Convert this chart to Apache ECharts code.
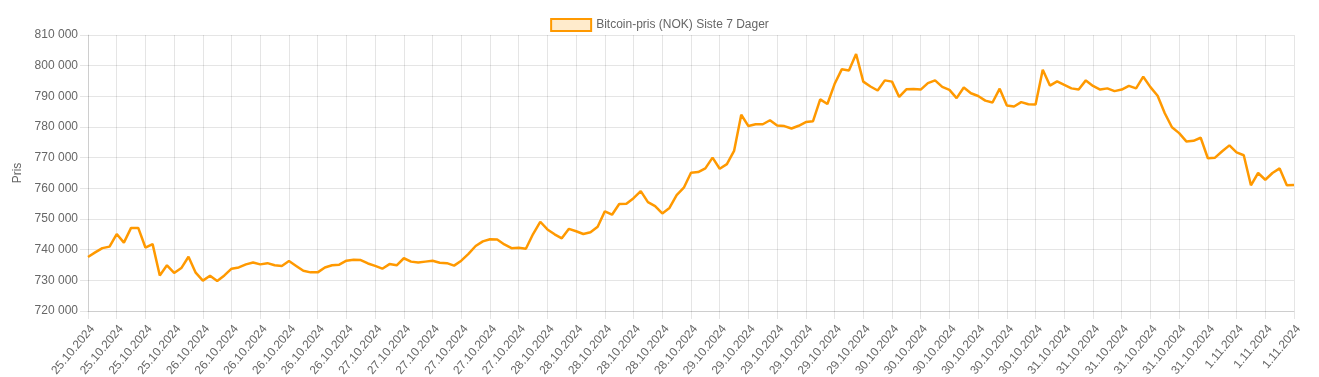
<!DOCTYPE html>
<html>
<head>
<meta charset="utf-8">
<script src="https://cdn.jsdelivr.net/npm/echarts@6/dist/echarts.min.js"></script>
<style>
  html, body { margin: 0; padding: 0; background: #fff; }
  #chartBtc { width: 1319px; height: 377px; }
</style>
</head>
<body>
<div id="chartBtc"></div>
<script>
// dager og antall timepunkter per dag (første punkt 25.10 kl 08)
const dayLabels = ['25.10.2024', '26.10.2024', '27.10.2024', '28.10.2024', '29.10.2024', '30.10.2024', '31.10.2024', '1.11.2024'];
const hoursPerDay = [16, 24, 24, 24, 24, 24, 24, 9];

// pris i NOK, en verdi per time
const prices = [
  737600, 739100, 740500, 741000, 745100, 742300, 747100, 747100, 740700, 741800,
  731600, 734900, 732400, 734000, 737700, 732500, 729900, 731500, 729800, 731600,
  733800, 734200, 735200, 735800, 735200, 735600, 734900, 734700, 736300, 734700,
  733100, 732600, 732600, 734200, 734900, 735100, 736400, 736700, 736600, 735500,
  734700, 733800, 735300, 734900, 737200, 736100, 735800, 736100, 736400, 735750,
  735600, 734800, 736400, 738600, 741200, 742700, 743400, 743300, 741700, 740500,
  740600, 740300, 745100, 749100, 746600, 745000, 743700, 746800, 746000, 745100,
  745700, 747500, 752500, 751400, 754900, 755000, 756800, 759100, 755500, 754200,
  751800, 753600, 757800, 760200, 765100, 765300, 766500, 770000, 766400, 767900,
  772200, 784000, 780300, 780900, 780900, 782200, 780500, 780300, 779500, 780400,
  781600, 781900, 789000, 787500, 794000, 798800, 798400, 803800, 794800, 793200,
  791900, 795200, 794800, 789800, 792300, 792400, 792200, 794300, 795200, 793100,
  792100, 789400, 792900, 791000, 790100, 788600, 788000, 792500, 787000, 786700,
  788100, 787400, 787300, 798700, 793500, 794900, 793700, 792600, 792200, 795200,
  793400, 792200, 792600, 791700, 792200, 793400, 792600, 796400, 793000, 790200,
  784500, 779900, 778000, 775300, 775500, 776500, 769800, 770000, 772100, 774000,
  771700, 770800, 761000, 765000, 762800, 765000, 766500, 761000, 761100
];

const yMin = 720000;
const yMax = 810000;
const yStep = 10000;
const labelEvery = 4;

// unike kategorinøkler "dato|indeks", bare datoen vises
const categories = [];
dayLabels.forEach(function (day, d) {
  for (let h = 0; h < hoursPerDay[d]; h++) {
    categories.push(day + '|' + categories.length);
  }
});

const gridColor = 'rgba(0,0,0,0.1)';
const textColor = '#666';
const font = 'Liberation Sans, Arial, Helvetica, sans-serif';
const seriesName = 'Bitcoin-pris (NOK) Siste 7 Dager';

const myChart = echarts.init(document.getElementById('chartBtc'));
const option = {
  animation: false,
  textStyle: { fontFamily: font },
  legend: {
    top: 13,
    left: 'center',
    icon: 'rect',
    itemWidth: 40,
    itemHeight: 12,
    itemGap: 10,
    textStyle: { color: textColor, fontSize: 12, fontFamily: font },
    data: [{
      name: seriesName,
      itemStyle: { color: 'rgba(255,153,0,0.2)', borderColor: '#ff9900', borderWidth: 2 }
    }]
  },
  grid: {
    left: 88,
    right: 25,
    top: 35,
    bottom: 66,
    containLabel: false,
    outerBoundsMode: 'none'
  },
  xAxis: {
    type: 'category',
    data: categories,
    boundaryGap: false,
    axisLine: { lineStyle: { color: gridColor } },
    axisTick: { interval: labelEvery - 1, length: 8, lineStyle: { color: gridColor } },
    splitLine: { show: true, interval: labelEvery - 1, lineStyle: { color: gridColor } },
    axisLabel: {
      interval: labelEvery - 1,
      rotate: 50,
      margin: 12,
      verticalAlign: 'top',
      color: textColor,
      fontSize: 12,
      fontFamily: font,
      formatter: function (v) { return v.split('|')[0]; }
    }
  },
  yAxis: {
    type: 'value',
    min: yMin,
    max: yMax,
    interval: yStep,
    name: 'Pris',
    nameLocation: 'middle',
    nameRotate: 90,
    nameGap: 59,
    nameTextStyle: { color: textColor, fontSize: 12, fontFamily: font },
    axisLine: { show: true, lineStyle: { color: gridColor } },
    axisTick: { show: true, length: 8, lineStyle: { color: gridColor } },
    splitLine: { lineStyle: { color: gridColor } },
    axisLabel: {
      margin: 10,
      color: textColor,
      fontSize: 12,
      fontFamily: font,
      formatter: function (v) { return String(v).replace(/\B(?=(\d{3})+(?!\d))/g, ' '); }
    }
  },
  series: [{
    name: seriesName,
    type: 'line',
    data: prices,
    showSymbol: false,
    smooth: false,
    itemStyle: { color: '#ff9900' },
    lineStyle: { color: '#ff9900', width: 2.5 }
  }]
};
myChart.setOption(option);
</script>
</body>
</html>
